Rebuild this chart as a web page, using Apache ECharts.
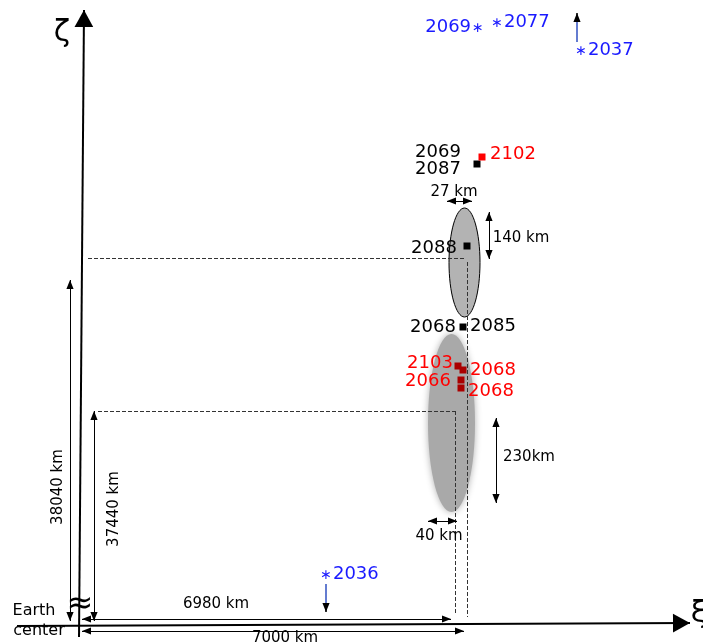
<!DOCTYPE html>
<html>
<head>
<meta charset="utf-8">
<script src="https://cdn.jsdelivr.net/npm/echarts@6/dist/echarts.min.js"></script>
<style>html,body{margin:0;padding:0;background:#fff}#c{width:703px;height:644px}</style>
</head>
<body>
<div id="c"></div>
<script>
// Schematic diagram units (x to the right, y downward in diagram space)
const mainAxes = [[[79,637],[84,10]], [[17,626],[690,623]]];
const dimArrows = [
  [[70,621],[70,280]],   // 38040 km
  [[94,621],[94,411]],   // 37440 km
  [[82,619],[451,619]],  // 6980 km
  [[82,631],[464,631]],  // 7000 km
  [[447,201],[472,201]], // 27 km
  [[489,212],[489,259]], // 140 km
  [[496,418],[496,503]], // 230 km
  [[428,521],[457,521]]  // 40 km
];
const dashedLines = [
  [[88,258],[466,258]],
  [[467,262],[467,617]],
  [[98,411],[455,411]],
  [[455,411],[455,613]]
];
const blueShafts = [[[577,42],[577,22]], [[326,584],[326,603]]];
const blackHeads = [[[577,22],[577,13]], [[326,603],[326,612]]];
const outlinedEllipse = [[464.5,262.5,15.5,54.5]];
const blurredEllipse = [[451.5,423,23.5,89]];
const blackSquares = [[477,164],[467,246],[463,327]];
const redSquares = [[482,157]];
const darkRedSquares = [[458,366],[463,370],[461,380],[461,388]];
const blackYears = [['2069',438,152],['2087',438,169],['2088',434,248],['2068',433,327],['2085',493,326]];
const redYears = [['2102',513,154],['2103',430,363],['2066',428,381],['2068',493,370],['2068',491,391]];
const blueYears = [['2069{s|\u2217}',455,27],['{s|\u2217}2077',520,22],['{s|\u2217}2037',604,50],['{s|\u2217}2036',349,574]];
const kmLabels = [['27 km',454,192],['140 km',521,238],['230km',529,457],['40 km',439,536],['6980 km',216,604],['7000 km',285,638]];
const kmRotLabels = [['38040 km',58,487],['37440 km',114,509]];
const earthLabels = [['Earth',34,611],['center',39,631]];
const axisNames = [['\u03b6',62,33],['\u03be',699,614]];
const breakMark = [['\u2248',80,605]];

const FONT = 'DejaVu Sans';
const TRI = 'path://M0,0L0,0M20,0L20,0M0,20L0,20M10,10L14,20L6,20Z';
const TRI_BIG = 'path://M0,0L0,0M20,0L20,0M0,20L0,20M10,10L15.5,20L4.5,20Z';

function toLines(arr){ return arr.map(c => ({coords: c})); }
function toText(arr){ return arr.map(d => ({name: d[0], value: [d[1], d[2]]})); }
function textSeries(arr, color, size, extra){
  return Object.assign({
    type: 'scatter', data: toText(arr), symbolSize: 1, silent: true, z: 10,
    itemStyle: {color: 'transparent', opacity: 1},
    label: Object.assign({show: true, position: 'inside', formatter: '{b}', color: color, opacity: 1,
      textBorderWidth: 0, fontFamily: FONT, fontSize: size, align: 'center', verticalAlign: 'middle',
      rich: {s: {fontSize: 14, color: color, fontFamily: FONT, padding: [2, 1, 0, 1]}}}, extra || {})
  });
}
function ellipseRender(style){
  return function(params, api){
    const c = api.coord([api.value(0), api.value(1)]);
    const s = api.size([api.value(2), api.value(3)]);
    return {type: 'ellipse', shape: {cx: c[0], cy: c[1], rx: Math.abs(s[0]), ry: Math.abs(s[1])}, style: style};
  };
}
function squareSeries(arr, color){
  return {type: 'scatter', data: arr, symbol: 'rect', symbolSize: 7, silent: true, z: 8,
    itemStyle: {color: color, opacity: 1}};
}

const chart = echarts.init(document.getElementById('c'), null, {renderer: 'canvas'});
chart.setOption({
  animation: false,
  backgroundColor: '#fff',
  grid: {left: 0, right: 0, top: 0, bottom: 0},
  xAxis: {type: 'value', min: 0, max: 703, show: false},
  yAxis: {type: 'value', min: 0, max: 644, inverse: true, show: false},
  series: [
    {type: 'custom', renderItem: ellipseRender({fill: '#a9a9a9', shadowBlur: 7, shadowColor: '#b0b0b0'}),
      data: blurredEllipse, silent: true, z: 1},
    {type: 'custom', renderItem: ellipseRender({fill: '#b3b3b3', stroke: '#000', lineWidth: 1}),
      data: outlinedEllipse, silent: true, z: 1},
    {type: 'lines', coordinateSystem: 'cartesian2d', data: toLines(dashedLines), silent: true, z: 3,
      symbol: 'none', lineStyle: {color: '#333', width: 1, type: [4, 2], opacity: 1}},
    {type: 'lines', coordinateSystem: 'cartesian2d', data: toLines(dimArrows), silent: true, z: 4,
      symbol: [TRI, TRI], symbolSize: 18, lineStyle: {color: '#000', width: 1, opacity: 1}},
    {type: 'lines', coordinateSystem: 'cartesian2d', data: toLines(mainAxes), silent: true, z: 5,
      symbol: ['none', TRI_BIG], symbolSize: 34, lineStyle: {color: '#000', width: 2, opacity: 1}},
    {type: 'lines', coordinateSystem: 'cartesian2d', data: toLines(blueShafts), silent: true, z: 4,
      symbol: 'none', lineStyle: {color: '#3050c0', width: 1.5, opacity: 1}},
    {type: 'lines', coordinateSystem: 'cartesian2d', data: toLines(blackHeads), silent: true, z: 4,
      symbol: ['none', TRI], symbolSize: 18, lineStyle: {color: '#000', width: 1.5, opacity: 1}},
    squareSeries(blackSquares, '#000'),
    squareSeries(redSquares, '#ff0000'),
    squareSeries(darkRedSquares, '#aa0000'),
    textSeries(blackYears, '#000', 18),
    textSeries(redYears, '#ff0000', 18),
    textSeries(blueYears, '#1a1aff', 18),
    textSeries(kmLabels, '#000', 15),
    textSeries(kmRotLabels, '#000', 15, {rotate: 90}),
    textSeries(earthLabels, '#000', 16),
    textSeries(axisNames, '#000', 30),
    textSeries(breakMark, '#000', 32)
  ]
});
</script>
</body>
</html>
